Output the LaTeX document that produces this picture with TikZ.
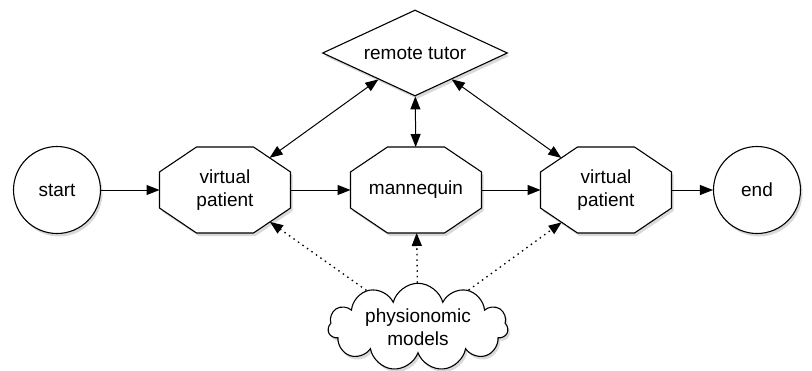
\documentclass[tikz,border=0pt]{standalone}
\usepackage{fontspec}
\setmainfont{Liberation Sans}
\usetikzlibrary{shapes.geometric,shapes.symbols,shadows,arrows.meta}

% stretched octagon, cut in proportion to the box
\makeatletter
\def\octparams{%
	\southwest
	\edef\octxa{\the\pgf@x}\edef\octya{\the\pgf@y}%
	\northeast
	\edef\octxb{\the\pgf@x}\edef\octyb{\the\pgf@y}%
	\pgfmathsetmacro\octmx{(\octxa+\octxb)/2}%
	\pgfmathsetmacro\octmy{(\octya+\octyb)/2}%
	\pgfmathsetmacro\octW{(\octxb-\octxa)/2}%
	\pgfmathsetmacro\octH{(\octyb-\octya)/2}%
	\pgfmathsetmacro\octcx{0.565*\octW}%
	\pgfmathsetmacro\octcy{0.58*\octH}%
}
\pgfdeclareshape{octabox}{
	\inheritsavedanchors[from=rectangle]
	\inheritanchor[from=rectangle]{center}
	\inheritanchor[from=rectangle]{text}
	\inheritanchor[from=rectangle]{base}
	\inheritanchor[from=rectangle]{mid}
	\inheritanchor[from=rectangle]{north}
	\inheritanchor[from=rectangle]{south}
	\inheritanchor[from=rectangle]{east}
	\inheritanchor[from=rectangle]{west}
	\backgroundpath{%
		\octparams
		\pgfpathmoveto{\pgfpoint{\octmx-\octW+\octcx}{\octmy-\octH}}%
		\pgfpathlineto{\pgfpoint{\octmx+\octW-\octcx}{\octmy-\octH}}%
		\pgfpathlineto{\pgfpoint{\octmx+\octW}{\octmy-\octH+\octcy}}%
		\pgfpathlineto{\pgfpoint{\octmx+\octW}{\octmy+\octH-\octcy}}%
		\pgfpathlineto{\pgfpoint{\octmx+\octW-\octcx}{\octmy+\octH}}%
		\pgfpathlineto{\pgfpoint{\octmx-\octW+\octcx}{\octmy+\octH}}%
		\pgfpathlineto{\pgfpoint{\octmx-\octW}{\octmy+\octH-\octcy}}%
		\pgfpathlineto{\pgfpoint{\octmx-\octW}{\octmy-\octH+\octcy}}%
		\pgfpathclose
	}
	\anchorborder{%
		\edef\octdx{\the\pgf@x}\edef\octdy{\the\pgf@y}%
		\octparams
		\pgfmathsetmacro\octlen{max(veclen(\octdx,\octdy),0.001)}%
		\pgfmathsetmacro\octux{abs(\octdx)/\octlen}%
		\pgfmathsetmacro\octuy{abs(\octdy)/\octlen}%
		\pgfmathsetmacro\octt{min(\octW/max(\octux,0.01),\octH/max(\octuy,0.01),
			(\octcy*\octW+\octcx*\octH-\octcx*\octcy)/(\octcy*\octux+\octcx*\octuy))}%
		\pgfmathsetlength\pgf@xa{\octmx+\octt*\octdx/\octlen}%
		\pgfmathsetlength\pgf@ya{\octmy+\octt*\octdy/\octlen}%
		\pgf@x=\pgf@xa \pgf@y=\pgf@ya
	}
}
\makeatother

\tikzset{
  box/.style={draw, fill=white, line width=1.1pt, align=center,
    font=\fontsize{19}{23}\selectfont,
    drop shadow={shadow xshift=2pt, shadow yshift=-3pt, opacity=.3}},
  endpt/.style={box, circle, minimum size=87pt, inner sep=0pt},
  octa/.style={box, octabox, minimum width=131pt, minimum height=86pt, inner sep=0pt, outer sep=0pt},
  tutorbox/.style={box, diamond, aspect=2.1, minimum width=185pt, minimum height=86pt, inner sep=0pt},
  modelbox/.style={box, cloud, cloud puffs=11, aspect=2.3, minimum width=180pt, minimum height=78pt,
    inner xsep=-4pt, inner ysep=-9pt},
  tip/.tip={Triangle[length=13pt, width=10pt]},
  flow/.style={-tip, line width=1pt},
  link/.style={tip-tip, line width=1pt},
  feed/.style={-tip, line width=1.3pt, dash pattern=on 1.5pt off 4pt}
}

\begin{document}
\begin{tikzpicture}[x=1pt, y=-1pt]
	\useasboundingbox (0,0) rectangle (812,370);
% main chain
	\node[endpt] (start) at (57,190) {start};
	\node[octa] (vp1) at (225,190) {virtual\\patient};
	\node[octa] (man) at (416,190) {mannequin};
	\node[octa] (vp2) at (606,190) {virtual\\patient};
	\node[endpt] (fin) at (757,190) {end};
% tutor and models
	\node[tutorbox] (tutor) at (415,53) {remote tutor};
	\node[modelbox] (model) at (418,327) {physionomic\\models};

	\draw[flow] (start) -- (vp1);
	\draw[flow] (vp1) -- (man);
	\draw[flow] (man) -- (vp2);
	\draw[flow] (vp2) -- (fin);

	\draw[link] (tutor) -- (vp1);
	\draw[link] (tutor) -- (man);
	\draw[link] (tutor) -- (vp2);

	\draw[feed] (model) -- (vp1);
	\draw[feed] (model) -- (man);
	\draw[feed] (model) -- (vp2);
\end{tikzpicture}
\end{document}
